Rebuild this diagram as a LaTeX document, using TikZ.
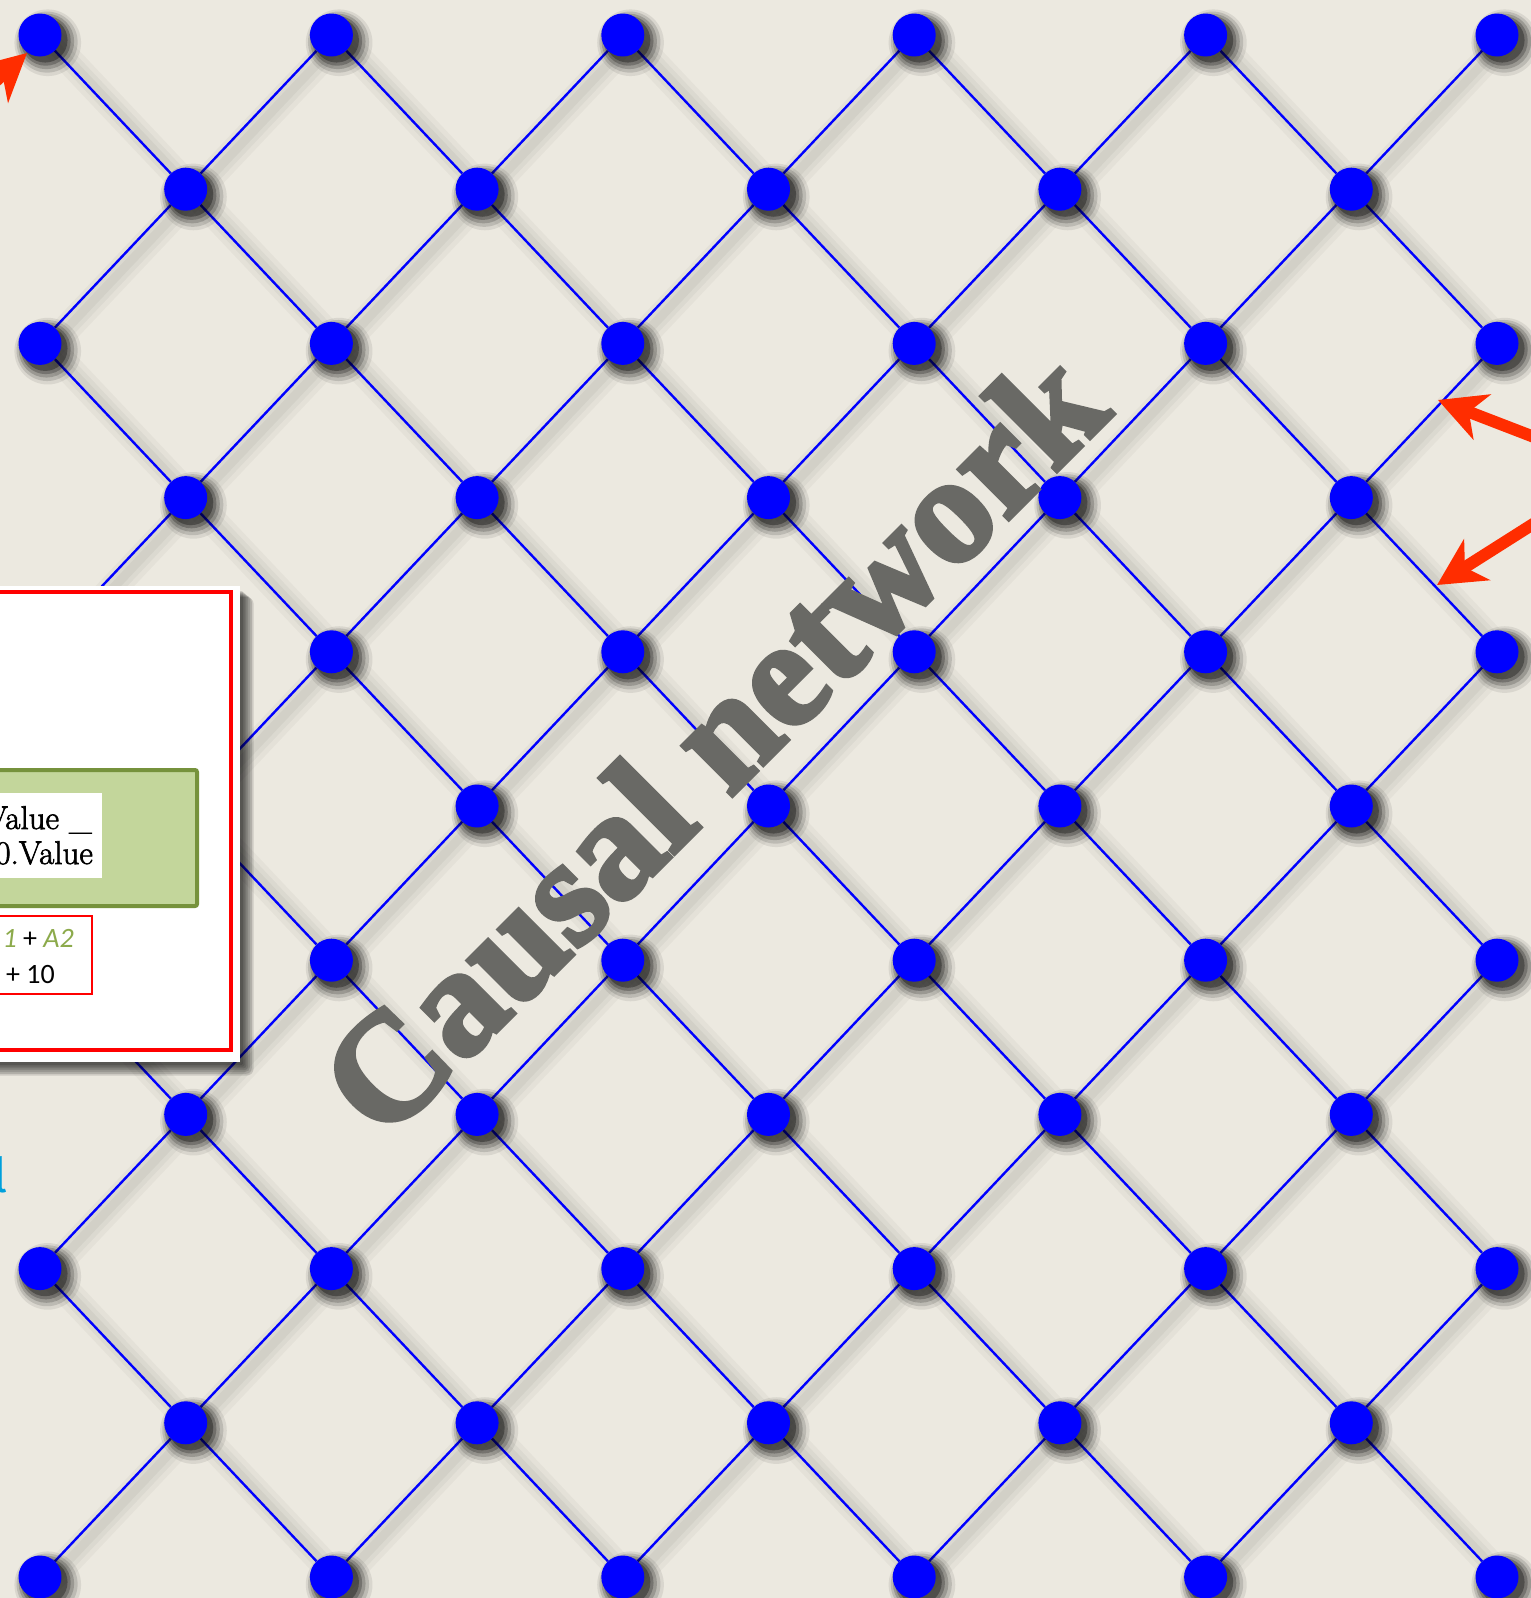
\documentclass[tikz,border=0pt]{standalone}
\usepackage{fontspec}
\newfontfamily\titlefont[FakeBold=3]{Liberation Serif Bold}
\newfontfamily\valfont[FakeBold=2]{Latin Modern Roman}
\newfontfamily\calfont{Carlito}
\newfontfamily\firafont{Fira Sans}
\usetikzlibrary{shadows,arrows.meta}
\definecolor{bgcol}{RGB}{236,233,224}
\definecolor{dotblue}{RGB}{0,0,255}
\definecolor{arrowred}{RGB}{255,45,0}
\definecolor{gfill}{RGB}{195,214,155}
\definecolor{gborder}{RGB}{118,146,60}
\definecolor{gtext}{RGB}{140,170,75}
\definecolor{titlegray}{RGB}{105,105,101}
\definecolor{cyanl}{RGB}{0,160,220}
\definecolor{boxred}{RGB}{255,0,0}
\pgfdeclarelayer{backlayer}
\pgfdeclarelayer{shadowlayer}
\pgfdeclarelayer{edgelayer}
\pgfsetlayers{backlayer,shadowlayer,edgelayer,main}
\begin{document}
\begin{tikzpicture}[x=1pt,y=-1pt,
  dot/.style={circle, fill=dotblue, minimum size=43pt, inner sep=0pt,
    general shadow={shadow xshift=5pt, shadow yshift=-5pt, shadow scale=1.55, opacity=0.08, fill=black},
    general shadow={shadow xshift=5pt, shadow yshift=-5pt, shadow scale=1.42, opacity=0.13, fill=black},
    general shadow={shadow xshift=5pt, shadow yshift=-5pt, shadow scale=1.29, opacity=0.18, fill=black},
    general shadow={shadow xshift=5pt, shadow yshift=-5pt, shadow scale=1.16, opacity=0.24, fill=black},
    general shadow={shadow xshift=5pt, shadow yshift=-5pt, shadow scale=1.04, opacity=0.32, fill=black}},
  link/.style={draw=dotblue, line width=2.4pt},
  lshadowA/.style={draw=black, opacity=0.03, line width=28pt},
  lshadowB/.style={draw=black, opacity=0.035, line width=18pt},
  lshadowC/.style={draw=black, opacity=0.04, line width=9pt},
  redarrow/.style={draw=arrowred, line width=12pt, -{Stealth[length=47pt,width=48pt,inset=14pt]}},
  valtext/.style={font=\valfont\fontsize{33}{33}\selectfont, anchor=base east, inner sep=0pt},
  caltext/.style={font=\calfont\fontsize{28}{28}\selectfont, anchor=base east, inner sep=0pt},
]
\useasboundingbox (0,0) rectangle (1531,1598);
\begin{pgfonlayer}{backlayer}
  \fill[bgcol] (0,0) rectangle (1531,1598);
\end{pgfonlayer}

% dots
\foreach \j in {0,...,10}{
  \foreach \i in {0,...,10}{
    \pgfmathtruncatemacro{\p}{mod(\i+\j,2)}
    \ifnum\p=0
      \node[dot] (d-\i-\j) at ({40+145.7*\i},{35+154.2*\j}) {};
    \fi
  }
}

% connectors and their shadows
\foreach \j in {0,...,9}{
  \foreach \i in {0,...,10}{
    \pgfmathtruncatemacro{\p}{mod(\i+\j,2)}
    \pgfmathtruncatemacro{\jn}{\j+1}
    \pgfmathtruncatemacro{\ir}{\i+1}
    \pgfmathtruncatemacro{\il}{\i-1}
    \ifnum\p=0
      \ifnum\i<10
        \begin{pgfonlayer}{shadowlayer}
          \begin{scope}[transform canvas={xshift=9pt,yshift=-4pt}]
            \draw[lshadowA] (d-\i-\j.center) -- (d-\ir-\jn.center);
            \draw[lshadowB] (d-\i-\j.center) -- (d-\ir-\jn.center);
            \draw[lshadowC] (d-\i-\j.center) -- (d-\ir-\jn.center);
          \end{scope}
        \end{pgfonlayer}
        \begin{pgfonlayer}{edgelayer}
          \draw[link] (d-\i-\j) -- (d-\ir-\jn);
        \end{pgfonlayer}
      \fi
      \ifnum\i>0
        \begin{pgfonlayer}{shadowlayer}
          \begin{scope}[transform canvas={xshift=9pt,yshift=-4pt}]
            \draw[lshadowA] (d-\i-\j.center) -- (d-\il-\jn.center);
            \draw[lshadowB] (d-\i-\j.center) -- (d-\il-\jn.center);
            \draw[lshadowC] (d-\i-\j.center) -- (d-\il-\jn.center);
          \end{scope}
        \end{pgfonlayer}
        \begin{pgfonlayer}{edgelayer}
          \draw[link] (d-\i-\j) -- (d-\il-\jn);
        \end{pgfonlayer}
      \fi
    \fi
  }
}

% title
\node[text=titlegray, rotate=45, inner sep=0pt,
  font=\titlefont\fontsize{153}{153}\selectfont] (title) at (712,742) {Causal network};

% white panel with shadow
\foreach \k in {1,...,7}{
  \fill[black, opacity=0.13, rounded corners=\k pt] (-40,{590+\k}) rectangle ({241+1.8*\k},{1063+1.8*\k});
}
\fill[white] (-40,586) rectangle (240,1062);
\draw[boxred, line width=3.5pt] (-40,592) rectangle (231,1050);
\draw[gborder, fill=gfill, line width=4pt, rounded corners=2pt] (-40,770) rectangle (197,906);
\fill[white] (-20,793) rectangle (102,878);
\node[valtext] (v1) at (92,829) {Value \_};
\node[valtext] (v2) at (93,864) {0.Value};
\draw[boxred, line width=1.5pt] (-20,916) rectangle (92,994);
\node[caltext] (f1) at (74,947) {\textcolor{gtext}{\itshape 1} + \textcolor{gtext}{\itshape A2}};
\node[caltext] (f2) at (55,983) {+ 10};

% cyan fragment
\node[text=cyanl, font=\firafont\fontsize{48}{48}\selectfont, anchor=base west, inner sep=0pt] (frag) at (-7,1192) {l};

% red arrows
\coordinate (a0s) at (-84,153);
\coordinate (a0t) at (27,53);
\coordinate (a1s) at (1560,447);
\coordinate (a1t) at (1438,400);
\coordinate (a2s) at (1560,507);
\coordinate (a2t) at (1437,585);
\draw[redarrow] (a0s) -- (a0t);
\draw[redarrow] (a1s) -- (a1t);
\draw[redarrow] (a2s) -- (a2t);
\end{tikzpicture}
\end{document}
